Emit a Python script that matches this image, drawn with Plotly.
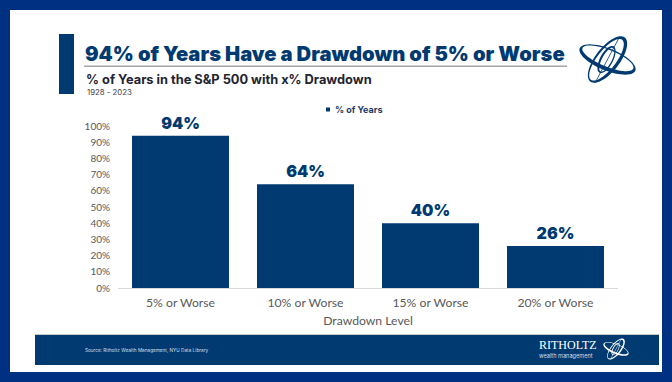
import math
import plotly.graph_objects as go

categories = ["5% or Worse", "10% or Worse", "15% or Worse", "20% or Worse"]
values = [94, 64, 40, 26]
y_ticks = list(range(0, 101, 10))
y_labels = [f"{v}%" for v in y_ticks]

W, H = 672, 382
L, R, T, B = 118, 618, 126, 288
NAVY = "#003a70"
BORDER = "#003082"


def px(x):
    return (x - L) / (R - L)


def py(y):
    return (B - y) / (B - T)


def rect(x0, y0, x1, y1, color):
    return dict(type="rect", xref="paper", yref="paper", x0=px(x0), x1=px(x1),
                y0=py(y0), y1=py(y1), fillcolor=color, line_width=0, layer="below")


def ellipse_pts(cx, cy, a, b, deg, rev=False, n=60):
    t = math.radians(deg)
    pts = []
    for i in range(n):
        u = 2 * math.pi * i / n * (-1 if rev else 1)
        ex, ey = a * math.cos(u), b * math.sin(u)
        pts.append((px(cx + ex * math.cos(t) - ey * math.sin(t)),
                    py(cy + ex * math.sin(t) + ey * math.cos(t))))
    return "M" + "L".join(f"{x:.5f},{y:.5f}" for x, y in pts) + "Z"


def ring(cx, cy, a, b, deg, dx, dy, thick, color):
    # crescent: outer ellipse with a slightly smaller, offset ellipse cut out of it
    path = ellipse_pts(cx, cy, a, b, deg) + ellipse_pts(cx + dx, cy + dy, a - thick, b - thick, deg, rev=True)
    return dict(type="path", xref="paper", yref="paper", path=path, fillcolor=color, line_width=0)


def logo(cx, cy, s, color):
    out = [
        ring(cx, cy, 30 * s, 11 * s, 22, 0.4 * s, -1.2 * s, 2.6 * s, color),
        ring(cx, cy, 28 * s, 12 * s, -52, -1.0 * s, 0.3 * s, 2.6 * s, color),
        ring(cx - 1 * s, cy, 15 * s, 6.5 * s, -62, 0.3 * s, 0.2 * s, 1.7 * s, color),
    ]
    t = math.radians(-62)
    out.append(dict(type="line", xref="paper", yref="paper",
                    x0=px(cx - 26 * s * math.cos(t)), y0=py(cy - 26 * s * math.sin(t)),
                    x1=px(cx + 24 * s * math.cos(t)), y1=py(cy + 24 * s * math.sin(t)),
                    line=dict(color=color, width=max(.8 * s, .5))))
    return out


def text(x, y, s, size, color, weight=400, family="Inter", anchor="left"):
    return dict(xref="paper", yref="paper", x=px(x), y=py(y), text=s, showarrow=False,
                xanchor=anchor, yanchor="middle",
                font=dict(size=size, color=color, family=family, weight=weight))


fig = go.Figure(go.Bar(
    x=categories, y=values, marker=dict(color=NAVY, line_width=0),
    text=[f"{v}%" for v in values], textposition="outside", cliponaxis=False,
    textfont=dict(size=16, color=NAVY, family="Inter", weight=900),
    name="% of Years",
))

shapes = [
    rect(10, 10, 662, 372, "#ffffff"),
    rect(59, 34, 74, 94, NAVY),
    rect(84, 65.5, 567, 67, "#a6a6a6"),
    rect(35, 335, 659, 365, NAVY),
    rect(35, 334, 659, 335, "#c8c8c8"),
    rect(326, 107.5, 330, 111.5, NAVY),
] + logo(607.5, 59.5, 1, NAVY) + logo(616, 349, .45, "#ffffff")

annotations = [
    text(82.5, 53, "94% of Years Have a Drawdown of 5% or Worse", 20.2, NAVY, 900),
    text(83.5, 79.5, "% of Years in the S&amp;P 500 with x% Drawdown", 12.8, "#1f2430", 700),
    text(84.5, 92, "1928 - 2023", 7.8, "#444444"),
    text(332.5, 109.5, "% of Years", 9, "#1f3a5f", 700),
    text(82.5, 349.5, "Source: Ritholtz Wealth Management, NYU Data Library", 4.7, "#d5dfea"),
    text(536.5, 345, "RITHOLTZ", 12, "#ffffff", 400, "Liberation Serif"),
    text(536.5, 356, "wealth management", 5.6, "#d5dfea"),
]

fig.update_layout(
    width=W, height=H, margin=dict(l=L, r=W - R, t=T, b=H - B, pad=0, autoexpand=False),
    paper_bgcolor=BORDER, plot_bgcolor="rgba(0,0,0,0)", showlegend=False,
    bargap=0.224, shapes=shapes, annotations=annotations,
    font=dict(family="Lato", color="#595959"),
    xaxis=dict(showline=True, linecolor="#d9d9d9", linewidth=1, ticks="", showgrid=False,
               tickfont=dict(size=12.2, color="#595959", family="Lato"),
               ticklabelstandoff=3,
               title=dict(text="Drawdown Level", standoff=7,
                          font=dict(size=12.2, color="#595959", family="Lato"))),
    yaxis=dict(range=[0, 100], tickvals=y_ticks, ticktext=y_labels, showgrid=False,
               zeroline=False, showline=False, ticks="", ticklabelstandoff=7,
               tickfont=dict(size=10, color="#595959", family="Lato")),
)
fig.write_html("out.html", config=dict(displayModeBar=False),
               post_script="document.body.style.margin='0';document.body.style.overflow='hidden';")
